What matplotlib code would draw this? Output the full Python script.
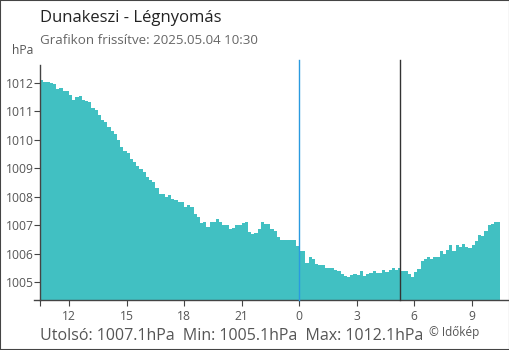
import numpy as np
import matplotlib
matplotlib.use("Agg")
import matplotlib.pyplot as plt
from matplotlib.patches import Rectangle
from matplotlib.lines import Line2D

plt.rcParams['font.family'] = ['Open Sans', 'DejaVu Sans']

# pressure readings every 10 minutes, 10:30 (previous day) -> 10:30
start_hour = 10.5
step_hour = 1 / 6
pressure = [
    1012.1, 1012.03, 1012.03, 1011.99, 1011.95, 1011.79, 1011.82, 1011.72, 1011.72, 1011.58,
    1011.40, 1011.51, 1011.52, 1011.39, 1011.37, 1011.31, 1011.12, 1011.03, 1010.87, 1010.70,
    1010.62, 1010.44, 1010.30, 1010.20, 1009.98, 1009.74, 1009.60, 1009.53, 1009.32, 1009.21,
    1009.07, 1008.97, 1008.86, 1008.69, 1008.58, 1008.50, 1008.30, 1008.09, 1008.09, 1007.99,
    1008.07, 1007.91, 1007.88, 1007.81, 1007.80, 1007.63, 1007.70, 1007.63, 1007.39, 1007.28,
    1007.07, 1007.11, 1006.93, 1007.11, 1007.11, 1007.21, 1007.11, 1007.00, 1007.00, 1006.86,
    1006.90, 1007.00, 1007.00, 1007.07, 1007.11, 1006.76, 1006.68, 1006.72, 1006.86, 1007.11,
    1007.04, 1007.04, 1006.86, 1006.79, 1006.58, 1006.47, 1006.47, 1006.47, 1006.47, 1006.47,
    1006.26, 1006.09, 1006.09, 1005.67, 1005.88, 1005.80, 1005.63, 1005.60, 1005.60, 1005.49,
    1005.49, 1005.49, 1005.42, 1005.38, 1005.28, 1005.21, 1005.17, 1005.24, 1005.28, 1005.24,
    1005.38, 1005.21, 1005.28, 1005.31, 1005.38, 1005.31, 1005.31, 1005.42, 1005.35, 1005.42,
    1005.49, 1005.42, 1005.49, 1005.38, 1005.38, 1005.28, 1005.17, 1005.35, 1005.45, 1005.74,
    1005.80, 1005.88, 1005.80, 1005.88, 1005.88, 1006.09, 1005.98, 1006.12, 1006.30, 1006.09,
    1006.30, 1006.23, 1006.33, 1006.23, 1006.19, 1006.30, 1006.44, 1006.65, 1006.62, 1006.79,
    1007.00, 1007.04, 1007.11, 1007.11,
]
tick_hours = [10.5, 12, 15, 18, 21, 24, 27, 30, 33]
tick_labels = ["", "12", "15", "18", "21", "0", "3", "6", "9"]
yticks = [1005, 1006, 1007, 1008, 1009, 1010, 1011, 1012]
midnight = 24
sunrise = 24 + 5 + 17 / 60

title = "Dunakeszi - Légnyomás"
subtitle = "Grafikon frissítve: 2025.05.04 10:30"
summary = "Utolsó: 1007.1hPa  Min: 1005.1hPa  Max: 1012.1hPa"

FILL = "#41c0c2"
AX = "#444444"
TXT = "#555555"
BLUE = "#2a9ae0"

W, H = 510, 350
fig = plt.figure(figsize=(W / 100, H / 100), dpi=100)
ax = fig.add_axes([40.3 / W, 50 / H, (509 - 40.3) / W, 235 / H])

edges = start_hour + step_hour * np.arange(len(pressure) + 1)
ymin, ymax = 1004.37, 1012.62
ax.stairs(pressure, edges, baseline=ymin, fill=True, color=FILL, lw=0)
ax.set_xlim(start_hour, start_hour + (509 - 40.3) / 19.17)
ax.set_ylim(ymin, ymax)

# midnight and sunrise markers
ax.plot([midnight, midnight], [ymin, 1012.8], color=BLUE, lw=1, clip_on=False, zorder=3)
ax.plot([sunrise, sunrise], [ymin, 1012.8], color="#333333", lw=1, clip_on=False, zorder=3)

for s in ["top", "right"]:
    ax.spines[s].set_visible(False)
for s in ["left", "bottom"]:
    ax.spines[s].set_color(AX)
    ax.spines[s].set_linewidth(1)

ax.set_xticks(tick_hours)
ax.set_xticklabels(tick_labels)
ax.set_yticks(yticks)
ax.set_yticklabels([str(v) for v in yticks])
ax.tick_params(axis="both", colors=AX, labelcolor=TXT, labelsize=8.7, length=4.3, width=0.8)
ax.tick_params(axis="y", pad=0)
ax.tick_params(axis="x", pad=3)
for t, lab in zip(ax.xaxis.get_major_ticks(), tick_labels):
    if lab == "0":
        t.tick1line.set_color(BLUE)

# bottom axis line reaches under the y tick marks
fig.add_artist(Line2D([34 / W, 40.3 / W], [50 / H, 50 / H], color=AX, lw=1))

fig.text(40 / W, 1 - 18.5 / H, title, fontsize=12, color="#222222", va="center", ha="left")
fig.text(40 / W, 1 - 40 / H, subtitle, fontsize=9.6, color="#666666", va="center", ha="left")
fig.text(12 / W, 1 - 51 / H, "hPa", fontsize=8.7, color=TXT, va="center", ha="left")
fig.text(40 / W, 1 - 340 / H, summary, fontsize=11.5, color=TXT, va="baseline", ha="left")
fig.text(429 / W, 1 - 336 / H, "© Időkép", fontsize=8.5, color=TXT, va="baseline", ha="left")

fig.add_artist(Rectangle((0, 0), 1, 1, transform=fig.transFigure, fill=False,
                         edgecolor="#444444", lw=1.5))

fig.savefig("out.png", dpi=100)
